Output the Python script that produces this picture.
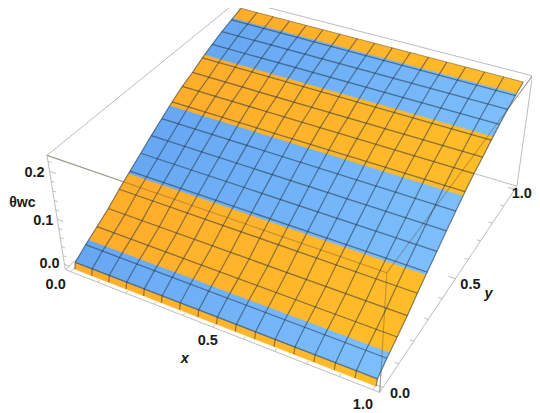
import numpy as np, altair as alt, pandas as pd

W, H = 524, 405
box_x = [-0.02, 1.02]
box_y = [-0.02, 1.02]
box_z = [-0.012, 0.232]
corner_idx = [(0,0,0),(1,0,0),(1,1,0),(0,0,1),(0,1,1),(1,1,1),(1,0,1)]
corner_px = [(65,269),(380,392),(517,187),(47,156),(239,0),(532,75),(387,273)]

profile_y = [0, .006, .0625, .125, .1875, .25, .3125, .375, .4375, .5, .5625, .625, .6875, .75, .8125, .875, .9375, 1]
profile_z = [-.015, -.002, .014, .029, .045, .064, .081, .098, .115, .131, .147, .161, .172, .185, .196, .206, .214, .222]
band_edges = [0, .006, .08, .305, .55, .765, .948, 1]
band_kind = ["o", "b", "o", "b", "o", "b", "o"]
mesh_x = [i/16 for i in range(17)]
mesh_y = [.006] + [i/16 for i in range(1, 16)]

x_labels = [("0.0",0,-15,13),("0.5",.5,-5,14),("1.0",1,-10,15)]
y_labels = [("0.0",0,17,6),("0.5",.5,15,6),("1.0",1,7,5)]
z_labels = [("0.0",0,-15,0),("0.1",.1,-14,2),("0.2",.2,-15,2)]

def dlt():
    A = []
    for (i,j,k),(u,v) in zip(corner_idx, corner_px):
        X = [box_x[i], box_y[j], box_z[k]*4, 1]
        A.append(X+[0]*4+[-u*c for c in X])
        A.append([0]*4+X+[-v*c for c in X])
    return np.linalg.svd(np.array(A, float))[2][-1].reshape(3,4)
P = dlt()
def proj(x, y, z):
    r = P @ np.array([x, y, z*4, 1])
    return float(r[0]/r[2])-8, float(r[1]/r[2])-8
def surf_z(y):
    return float(np.interp(y, profile_y, profile_z))

def mix(a, b, t):
    a = [int(a[i:i+2],16) for i in (1,3,5)]; b = [int(b[i:i+2],16) for i in (1,3,5)]
    return "#%02x%02x%02x" % tuple(round(p+(q-p)*t) for p,q in zip(a,b))
ramps = {"o":("#ffa81f","#ffb91c"), "b":("#5ea2f3","#75bafc")}

features = []
for n, kind in enumerate(band_kind):
    lo, hi = band_edges[n], band_edges[n+1]
    ys = [lo] + [v for v in profile_y if lo < v < hi] + [hi]
    for i in range(16):
        x0, x1 = mesh_x[i], mesh_x[i+1]
        ring = [proj(x0,v,surf_z(v)) for v in ys] + [proj(x1,v,surf_z(v)) for v in reversed(ys)]
        ring.append(ring[0])
        col = mix(*ramps[kind], (x0+x1)/2)
        features.append({"type":"Feature","geometry":{"type":"Polygon","coordinates":[[list(p) for p in ring]]},"properties":{"color":col}})

sx = alt.Scale(domain=[0,W], range=[0,W])
sy = alt.Scale(domain=[0,H], range=[0,H])
X = alt.X("x:Q", scale=sx, axis=None)
Y = alt.Y("y:Q", scale=sy, axis=None)

def lines_chart(segs, color, width, opacity=1.0):
    rows = []
    for g, seg in enumerate(segs):
        for o, p in enumerate(seg):
            rows.append({"x":p[0],"y":p[1],"g":g,"o":o})
    return alt.Chart(pd.DataFrame(rows)).mark_line(color=color, strokeWidth=width, opacity=opacity).encode(x=X, y=Y, detail="g:N", order="o:Q")

bx0,bx1 = box_x; by0,by1 = box_y; bz0,bz1 = box_z
def bp(i,j,k): return proj(box_x[i],box_y[j],box_z[k])
edges = [((0,0,0),(1,0,0)),((1,0,0),(1,1,0)),((0,0,0),(0,0,1)),((1,0,0),(1,0,1)),((1,1,0),(1,1,1)),
         ((0,1,0),(0,1,1)),((0,0,0),(0,1,0)),((0,1,0),(1,1,0)),
         ((0,0,1),(1,0,1)),((1,0,1),(1,1,1)),((0,0,1),(0,1,1)),((0,1,1),(1,1,1))]
box_segs = [[bp(*a),bp(*b)] for a,b in edges]
through = [[bp(0,0,1),bp(1,0,1)],[bp(1,0,1),bp(1,1,1)],[bp(1,0,0),bp(1,0,1)]]

ticks = []
for t in np.arange(0,1.01,.1):
    L = .022 if abs(t*2-round(t*2))<1e-6 else .012
    ticks.append([proj(t,by0,bz0),proj(t,by0+L,bz0)])
    ticks.append([proj(bx1,t,bz0),proj(bx1-L,t,bz0)])
for t in np.arange(0,.221,.02):
    L = .022 if abs(t*10-round(t*10))<1e-6 else .012
    ticks.append([proj(bx0,by0,t),proj(bx0+L,by0,t)])

meshX = [[proj(x,v,surf_z(v)) for v in profile_y] for x in mesh_x]
meshY = [[proj(0,v,surf_z(v)),proj(1,v,surf_z(v))] for v in mesh_y]
outline = [[proj(0,1,surf_z(1)),proj(1,1,surf_z(1))]]

surface = alt.Chart(alt.Data(values=features)).mark_geoshape(strokeWidth=0.6, opacity=0.94).encode(
    fill=alt.Fill("properties.color:N", scale=None),
    stroke=alt.Stroke("properties.color:N", scale=None),
).project(type="identity", scale=1, translate=[0,0])

txt = []
for s,t,dx,dy in x_labels:
    a,b = proj(t,by0,bz0); txt.append({"x":a+dx,"y":b+dy,"t":s})
for s,t,dx,dy in y_labels:
    a,b = proj(bx1,t,bz0); txt.append({"x":a+dx,"y":b+dy,"t":s})
for s,t,dx,dy in z_labels:
    a,b = proj(bx0,by0,t); txt.append({"x":a+dx,"y":b+dy,"t":s})
a,b = proj(.5,by0,bz0); txt.append({"x":a-28,"y":b+32,"t":"x","i":1})
a,b = proj(bx1,.5,bz0); txt.append({"x":a+33,"y":b+15,"t":"y","i":1})
labels = alt.Chart(pd.DataFrame([r for r in txt if "i" not in r])).mark_text(font="Liberation Sans",fontWeight="bold",fontSize=14.5,color="#1a1a1a").encode(x=X,y=Y,text="t:N")
axisn = alt.Chart(pd.DataFrame([{k:r[k] for k in "xyt"} for r in txt if "i" in r])).mark_text(font="Liberation Sans",fontWeight="bold",fontStyle="italic",fontSize=14.5,color="#1a1a1a").encode(x=X,y=Y,text="t:N")
a,b = proj(bx0,by0,.14)
ztitle = alt.Chart(pd.DataFrame([{"x":a-45,"y":b+3,"t":"θwc"}])).mark_text(font="Liberation Sans",fontWeight="bold",fontSize=14,color="#1a1a1a",align="left").encode(x=X,y=Y,text="t:N")

chart = alt.layer(
    lines_chart(box_segs,"#bdbdbd",1),
    lines_chart(ticks,"#bdbdbd",1),
    surface,
    lines_chart(through,"#6b5a3a",1.1,0.4),
    lines_chart(meshY,"#1f3040",1.3,0.52),
    lines_chart(meshX,"#1f3040",1.2,0.52),
    lines_chart(outline,"#1f3040",0.8,0.45),
    labels, axisn, ztitle,
).properties(width=W,height=H,padding=0,autosize=alt.AutoSizeParams(type="none")).configure_view(stroke=None)
chart.save("out.html", embed_options={"renderer":"svg","actions":False})
